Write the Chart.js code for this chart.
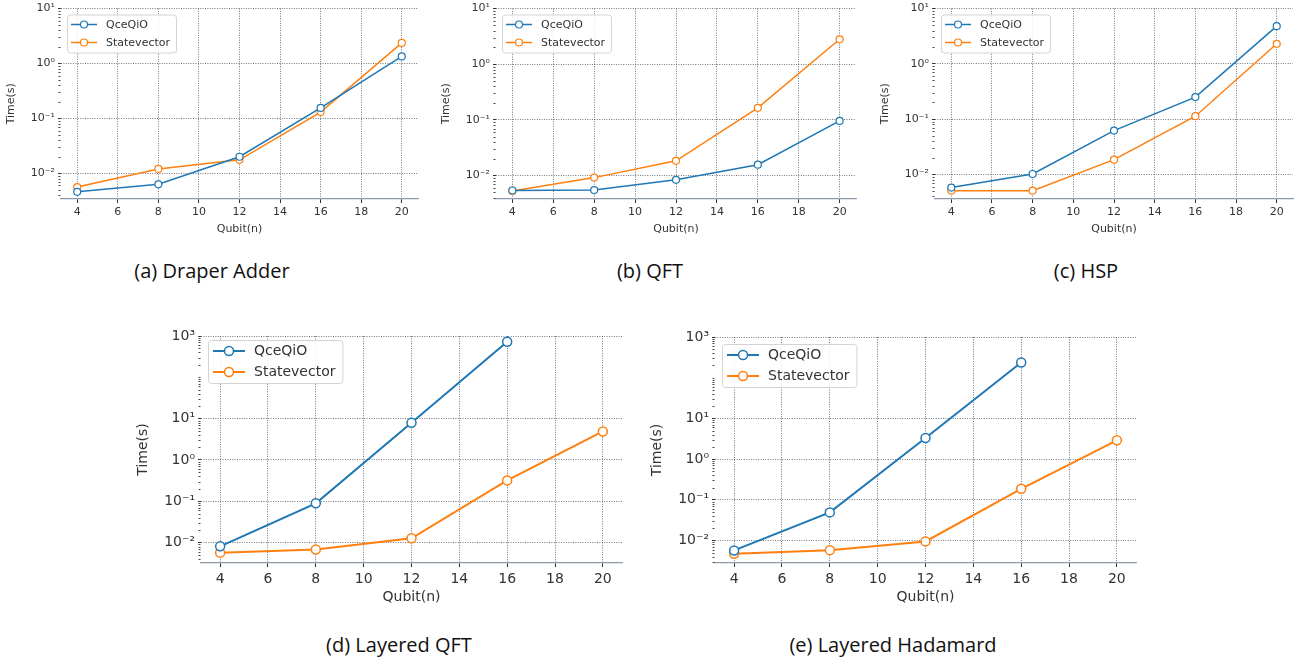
<!DOCTYPE html>
<html>
<head>
<meta charset="utf-8">
<script src="https://cdn.jsdelivr.net/npm/chart.js@4.4.1/dist/chart.umd.min.js"></script>
<style>
  html, body { margin: 0; padding: 0; background: #fff; }
  body { width: 1307px; height: 666px; position: relative; overflow: hidden; }
  canvas { position: absolute; }
  .caption {
    position: absolute; width: 320px; text-align: center;
    font-family: "Open Sans", "Lato", sans-serif; font-size: 20px;
    line-height: 22px; color: #111;
  }
</style>
</head>
<body>
<canvas id="c0"></canvas>
<canvas id="c1"></canvas>
<canvas id="c2"></canvas>
<canvas id="c3"></canvas>
<canvas id="c4"></canvas>

<script>
// valores (escala log, tiempo en segundos)
const qubits = [4, 8, 12, 16, 20];
const xTickValues = [4, 6, 8, 10, 12, 14, 16, 18, 20];
const seriesNames = ['QceQiO', 'Statevector'];
const seriesColors = ['#1f77b4', '#ff7f0e'];

const draperQceqio = [0.0046, 0.0063, 0.020, 0.155, 1.34];
const draperStatevector = [0.0056, 0.012, 0.0176, 0.13, 2.36];
const qftQceqio = [0.0054, 0.0055, 0.0084, 0.0157, 0.096];
const qftStatevector = [0.0053, 0.0092, 0.0184, 0.165, 2.8];
const hspQceqio = [0.0058, 0.0102, 0.062, 0.25, 4.8];
const hspStatevector = [0.0051, 0.0051, 0.0185, 0.113, 2.3];
const layeredQftQceqio = [0.0081, 0.089, 7.9, 725];
const layeredQftStatevector = [0.0057, 0.0068, 0.0127, 0.32, 4.9];
const layeredHadQceqio = [0.0057, 0.049, 3.3, 236];
const layeredHadStatevector = [0.0047, 0.0058, 0.0095, 0.186, 2.9];

const smallYTicks = [0.01, 0.1, 1, 10];
const largeYTicks = [0.01, 0.1, 1, 10, 1000];
const captions = ['(a) Draper Adder', '(b) QFT', '(c) HSP', '(d) Layered QFT', '(e) Layered Hadamard'];

// 10^n con superindices
const SUP = { '-': '\u207B', '0': '\u2070', '1': '\u00B9', '2': '\u00B2', '3': '\u00B3',
  '4': '\u2074', '5': '\u2075', '6': '\u2076', '7': '\u2077', '8': '\u2078', '9': '\u2079' };
function powLabel(v) {
  const e = Math.round(Math.log10(v));
  return '10' + String(e).split('').map(c => SUP[c]).join('');
}

// ticks menores del eje log + leyenda con recuadro dentro del area
const decoPlugin = {
  id: 'deco',
  afterDraw(chart, args, opts) {
    const ctx = chart.ctx;
    const y = chart.scales.y;
    const area = chart.chartArea;
    ctx.save();

    ctx.strokeStyle = '#444';
    ctx.lineWidth = 1;
    const lo = Math.floor(Math.log10(y.min));
    const hi = Math.ceil(Math.log10(y.max));
    for (let e = lo; e < hi; e++) {
      for (let k = 1; k < 10; k++) {
        const v = k * Math.pow(10, e);
        if (v < y.min || v > y.max) continue;
        if (k === 1 && opts.major.includes(v)) continue;
        const py = Math.round(y.getPixelForValue(v)) + 0.5;
        ctx.beginPath();
        ctx.moveTo(area.left - 2.5, py);
        ctx.lineTo(area.left - 0.5, py);
        ctx.stroke();
      }
    }

    const L = opts.legend;
    ctx.font = L.fs + 'px "DejaVu Sans"';
    const sets = chart.data.datasets;
    const tw = Math.max(...sets.map(d => ctx.measureText(d.label).width));
    const bx = area.left + L.dx;
    const by = area.top + (opts.legendDy !== undefined ? opts.legendDy : L.dy);
    const bw = L.pad + L.lineLen + L.gap + tw + L.pad + 2;
    const bh = L.first * 2 + L.rowH * (sets.length - 1);
    ctx.beginPath();
    ctx.roundRect(bx + 0.5, by + 0.5, bw, bh, 3);
    ctx.fillStyle = 'rgba(255,255,255,0.85)';
    ctx.fill();
    ctx.strokeStyle = '#d4d4d4';
    ctx.lineWidth = 1;
    ctx.stroke();

    sets.forEach((d, i) => {
      const ry = by + L.first + i * L.rowH;
      const x0 = bx + L.pad;
      ctx.strokeStyle = d.borderColor;
      ctx.lineWidth = d.borderWidth;
      ctx.beginPath();
      ctx.moveTo(x0, ry);
      ctx.lineTo(x0 + L.lineLen, ry);
      ctx.stroke();
      ctx.beginPath();
      ctx.arc(x0 + L.lineLen / 2, ry, d.pointRadius, 0, Math.PI * 2);
      ctx.fillStyle = '#fff';
      ctx.fill();
      ctx.lineWidth = d.pointBorderWidth;
      ctx.stroke();
      ctx.fillStyle = '#333';
      ctx.textBaseline = 'middle';
      ctx.fillText(d.label, x0 + L.lineLen + L.gap, ry + 0.5);
    });
    ctx.restore();
  }
};

const smallStyle = { fs: 11, lw: 1.5, r: 3.5, pbw: 1.2, tickPad: 3,
  legend: { dx: 6, dy: 6, fs: 11, pad: 4, lineLen: 26, gap: 9, first: 10, rowH: 18 } };
const bigStyle = { fs: 14, lw: 2, r: 4.5, pbw: 1.5, tickPad: 4,
  legend: { dx: 7, dy: 4, fs: 14, pad: 5, lineLen: 32, gap: 9, first: 11, rowH: 21 } };

const panels = [
  { id: 'c0', left: 0, top: 0, w: 430, h: 240, yW: 61, padTop: 6, padRight: 12,
    qce: draperQceqio, sv: draperStatevector, ymin: 0.0034, ymax: 10, yTicks: smallYTicks, st: smallStyle,
    cap: 0, capX: 212, capY: 260 },
  { id: 'c1', left: 435, top: 0, w: 433, h: 240, yW: 61, padTop: 6, padRight: 12,
    qce: qftQceqio, sv: qftStatevector, ymin: 0.0038, ymax: 10, yTicks: smallYTicks, st: smallStyle,
    cap: 1, capX: 650, capY: 260 },
  { id: 'c2', left: 874, top: 0, w: 431, h: 240, yW: 61, padTop: 6, padRight: 12,
    qce: hspQceqio, sv: hspStatevector, ymin: 0.0036, ymax: 10, yTicks: smallYTicks, st: smallStyle,
    cap: 2, capX: 1086, capY: 260 },
  { id: 'c3', left: 130, top: 320, w: 510, h: 290, yW: 71, padTop: 16, padRight: 18,
    qce: layeredQftQceqio, sv: layeredQftStatevector, ymin: 0.0032, ymax: 1000, yTicks: largeYTicks, st: bigStyle,
    cap: 3, capX: 399, capY: 634 },
  { id: 'c4', left: 644, top: 320, w: 510, h: 290, yW: 71, padTop: 17, padRight: 18,
    qce: layeredHadQceqio, sv: layeredHadStatevector, ymin: 0.0028, ymax: 1000, yTicks: largeYTicks, st: bigStyle,
    cap: 4, capX: 893, capY: 634, legendDy: 7 }
];

function toPoints(vals) {
  return vals.map((v, i) => ({ x: qubits[i], y: v }));
}

function crearPanel(p) {
  const cv = document.getElementById(p.id);
  cv.width = p.w;
  cv.height = p.h;
  cv.style.left = p.left + 'px';
  cv.style.top = p.top + 'px';
  const st = p.st;
  const chartBottom = p.top === 0 ? 199 : 563;
  const xH = p.h - (chartBottom - p.top);
  const font = { family: 'DejaVu Sans', size: st.fs, lineHeight: 1.2 };
  const gridCol = 'rgba(45,55,70,0.85)';

  const series = [p.qce, p.sv].map((vals, i) => ({
    label: seriesNames[i],
    data: toPoints(vals),
    borderColor: seriesColors[i],
    backgroundColor: seriesColors[i],
    borderWidth: st.lw,
    pointRadius: st.r,
    pointBorderWidth: st.pbw,
    pointBackgroundColor: '#fff',
    pointBorderColor: seriesColors[i],
    tension: 0
  }));

  new Chart(cv, {
    type: 'line',
    data: { datasets: series },
    plugins: [decoPlugin],
    options: {
      responsive: false,
      animation: false,
      layout: { padding: { top: p.padTop, right: p.padRight, left: 0, bottom: 0 } },
      plugins: {
        legend: { display: false },
        tooltip: { enabled: false },
        deco: { major: p.yTicks, legend: st.legend, legendDy: p.legendDy }
      },
      scales: {
        x: {
          type: 'linear', min: 3.2, max: 20.8,
          afterBuildTicks: s => { s.ticks = xTickValues.map(v => ({ value: v })); },
          afterFit: s => { s.height = xH; },
          ticks: { font: font, color: '#333', padding: st.tickPad, maxRotation: 0 },
          grid: { color: gridCol, lineWidth: 0.8, tickLength: 4, tickColor: '#333',
                  tickWidth: 1, tickBorderDash: [] },
          border: { display: true, color: '#8d99a6', width: 1.2, dash: [1, 1.4] },
          title: { display: true, text: 'Qubit(n)', font: font, color: '#333',
                   padding: { top: 0, bottom: 4 } }
        },
        y: {
          type: 'logarithmic', min: p.ymin, max: p.ymax,
          afterBuildTicks: s => { s.ticks = p.yTicks.map(v => ({ value: v })); },
          afterFit: s => { s.width = p.yW; },
          ticks: { font: { family: 'DejaVu Sans', size: st.fs, lineHeight: 1 }, color: '#333',
                   padding: 3, callback: v => powLabel(v) },
          grid: { color: gridCol, lineWidth: 0.8, tickLength: 3, tickColor: '#333',
                  tickWidth: 1, tickBorderDash: [] },
          border: { display: false, dash: [1, 1.4] },
          title: { display: true, text: 'Time(s)', font: font, color: '#333',
                   padding: { top: 5, bottom: 0 } }
        }
      }
    }
  });

  const cap = document.createElement('div');
  cap.className = 'caption';
  cap.textContent = captions[p.cap];
  cap.style.left = (p.capX - 160) + 'px';
  cap.style.top = p.capY + 'px';
  document.body.appendChild(cap);
}

panels.forEach(crearPanel);
</script>
</body>
</html>
